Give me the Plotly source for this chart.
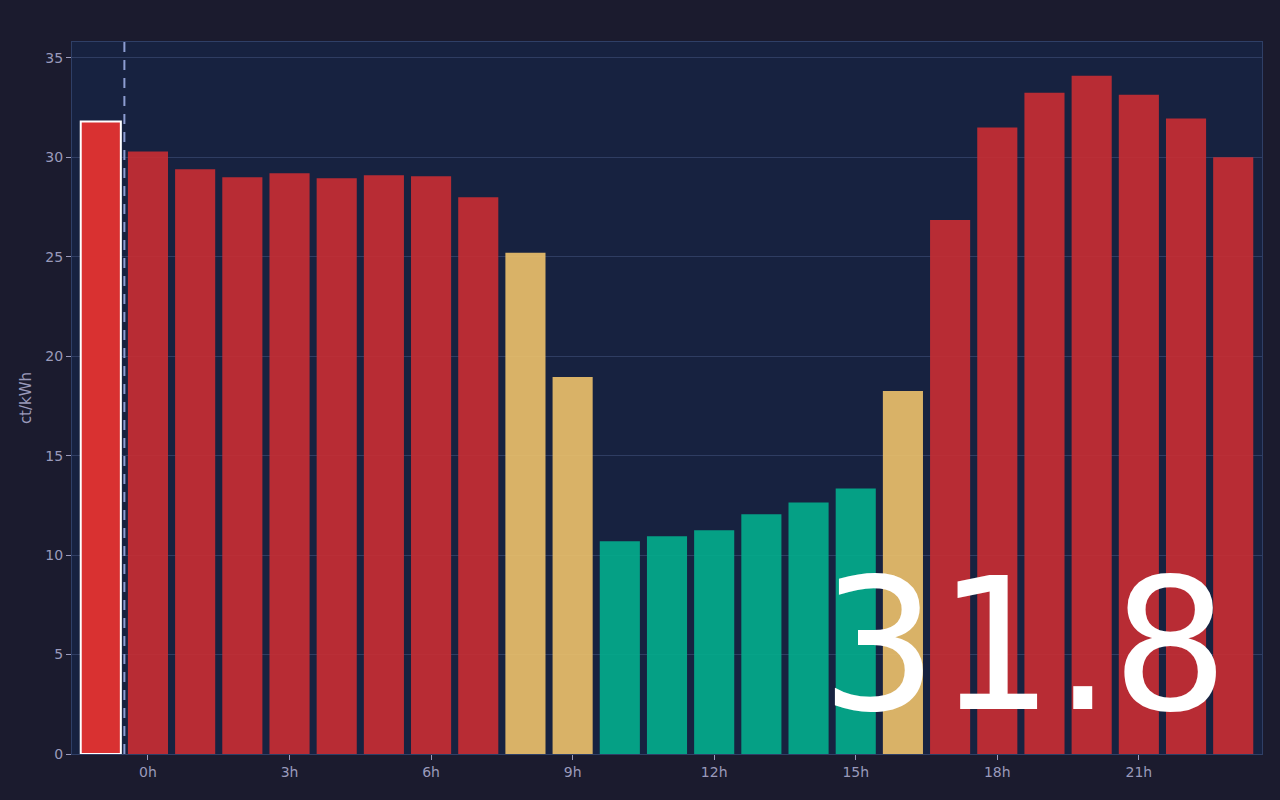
import plotly.graph_objects as go

# hourly price data (x = hour, -1 is the current slot)
hours = list(range(-1, 24))
prices = [31.8, 30.3, 29.4, 29.0, 29.2, 28.95, 29.1, 29.05, 28.0, 25.2, 18.95,
          10.7, 10.95, 11.25, 12.05, 12.65, 13.35, 18.25, 26.85, 31.5, 33.25,
          34.1, 33.15, 31.95, 30.0]
levels = ['now', 'high', 'high', 'high', 'high', 'high', 'high', 'high', 'high',
          'mid', 'mid', 'low', 'low', 'low', 'low', 'low', 'low', 'mid', 'high',
          'high', 'high', 'high', 'high', 'high', 'high']
tick_hours = [0, 3, 6, 9, 12, 15, 18, 21]
tick_labels = [f'{h}h' for h in tick_hours]
current_price = prices[0]

level_colors = {'now': '#d93131', 'high': '#ca2e33', 'mid': '#eec26c', 'low': '#03ae8d'}

colors = [level_colors[l] for l in levels]
opacities = [1.0 if l == 'now' else 0.9 for l in levels]
line_colors = ['white' if l == 'now' else 'rgba(0,0,0,0)' for l in levels]
line_widths = [2 if l == 'now' else 0 for l in levels]

fig = go.Figure()
fig.add_trace(go.Bar(
    x=hours,
    y=prices,
    marker=dict(color=colors, opacity=opacities,
                line=dict(color=line_colors, width=line_widths)),
    hovertemplate='%{x}h: %{y:.1f} ct/kWh<extra></extra>',
))

# marker for "now"
fig.add_shape(type='line', x0=-0.5, x1=-0.5, y0=0, y1=1, xref='x', yref='paper',
              line=dict(color='#8d9dd2', width=2, dash='10px,8px'))

fig.add_annotation(
    text=f'{current_price:.1f}', x=0.8, y=0.153, xref='paper', yref='paper',
    xanchor='center', yanchor='middle', showarrow=False,
    font=dict(family='DejaVu Sans', size=183, color='white'),
)

fig.update_layout(
    width=1280, height=800,
    paper_bgcolor='#1b1b2e',
    plot_bgcolor='#172240',
    font=dict(family='DejaVu Sans', color='#9a9abb', size=14),
    margin=dict(l=72, r=18, t=42, b=46),
    bargap=0.15,
    showlegend=False,
    xaxis=dict(
        range=[-1.61, 23.61],
        tickvals=tick_hours, ticktext=tick_labels,
        ticks='outside', ticklen=5, tickcolor='#9a9abb',
        showgrid=False, zeroline=False,
        showline=True, linecolor='#2f3f66', linewidth=1, mirror=True,
    ),
    yaxis=dict(
        range=[0, 35.8],
        dtick=5,
        title=dict(text='ct/kWh', font=dict(size=15), standoff=10),
        ticks='outside', ticklen=5, tickcolor='#9a9abb',
        gridcolor='#2f3d62', zeroline=False,
        showline=True, linecolor='#2f3f66', linewidth=1, mirror=True,
    ),
)

# full-bleed page, no default body margin
fig.write_html('out.html',
               config={'displayModeBar': False},
               post_script="document.body.style.margin='0';"
                           "document.body.style.background='#1b1b2e';")
